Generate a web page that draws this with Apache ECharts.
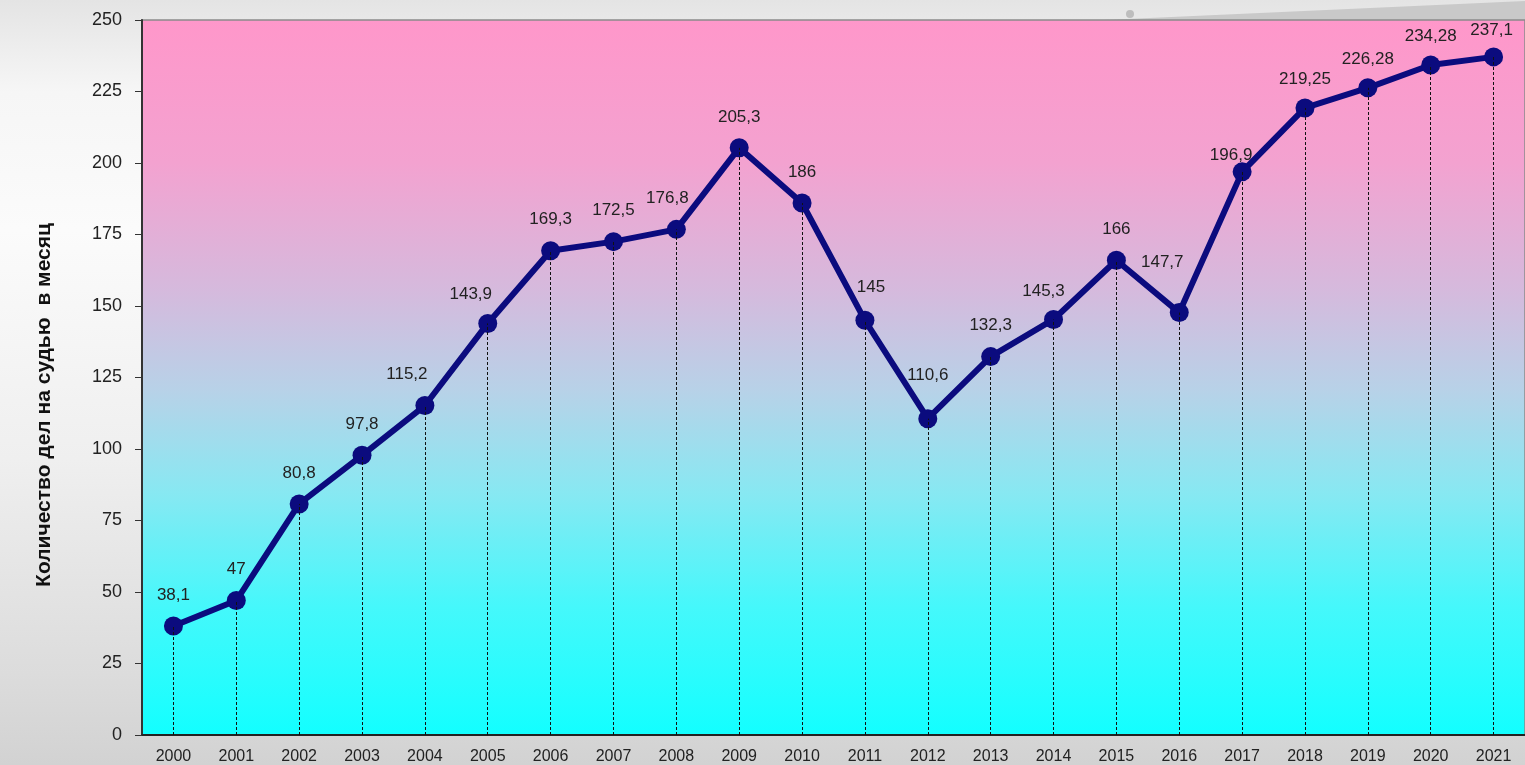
<!DOCTYPE html>
<html>
<head>
<meta charset="utf-8">
<script src="https://cdn.jsdelivr.net/npm/echarts@6/dist/echarts.min.js"></script>
<style>
  html, body { margin: 0; padding: 0; }
  body {
    width: 1525px;
    height: 765px;
    background: linear-gradient(180deg, #e4e4e4 0%, #f6f6f6 12%, #fbfbfb 30%, #efefef 60%, #dcdcdc 88%, #d2d2d2 100%);
  }
  #chart { width: 1525px; height: 765px; }
</style>
</head>
<body>
<div id="chart"></div>
<script>
// годы
const years = ['2000', '2001', '2002', '2003', '2004', '2005', '2006', '2007', '2008', '2009', '2010',
  '2011', '2012', '2013', '2014', '2015', '2016', '2017', '2018', '2019', '2020', '2021']
// дел на судью в месяц
const cases = [38.1, 47, 80.8, 97.8, 115.2, 143.9, 169.3, 172.5, 176.8, 205.3, 186,
  145, 110.6, 132.3, 145.3, 166, 147.7, 196.9, 219.25, 226.28, 234.28, 237.1]
const yTicks = [0, 25, 50, 75, 100, 125, 150, 175, 200, 225, 250]
const yTitle = 'Количество дел на судью  в месяц'

// сдвиг подписей [dx, dy] (чтобы не наезжали на линию)
const labelShift = {
  4: [-18, 0], 5: [-17, 2], 8: [-9, 0], 11: [6, -2], 12: [0, -12],
  14: [-10, 3], 16: [-17, -19], 17: [-11, 14], 18: [0, 2], 19: [0, 2], 20: [0, 2], 21: [-2, 4]
}

const chart = echarts.init(document.getElementById('chart'))

const dropLines = cases.map((v, i) => [{ coord: [i, 0] }, { coord: [i, v] }])
const font = 'Arial, "Liberation Sans", sans-serif'

const option = {
  animation: false,
  graphic: [
    {
      // серый клин сверху справа (оформление слайда)
      type: 'polygon',
      z: -1,
      shape: { points: [[1105, 20], [1525, 1], [1525, 20]] },
      style: { fill: '#c9c9c9' }
    },
    {
      type: 'circle',
      z: -1,
      shape: { cx: 1130, cy: 14, r: 4 },
      style: { fill: '#bdbdbd' }
    },
    {
      // подпись оси Y
      type: 'text',
      x: 44,
      y: 405,
      rotation: Math.PI / 2,
      style: {
        text: yTitle,
        fill: '#111',
        font: 'bold 21px ' + font,
        align: 'center',
        verticalAlign: 'middle'
      }
    }
  ],
  grid: {
    left: 142,
    right: -1,
    top: 20,
    bottom: 30,
    show: true,
    borderColor: '#8a8a8a',
    borderWidth: 1.5,
    backgroundColor: new echarts.graphic.LinearGradient(0, 0, 0, 1, [
      { offset: 0, color: '#ff97ca' },
      { offset: 0.2, color: '#f3a2d0' },
      { offset: 0.38, color: '#d5badd' },
      { offset: 0.52, color: '#b7d2e8' },
      { offset: 0.66, color: '#88e8f2' },
      { offset: 0.82, color: '#45f8fb' },
      { offset: 1, color: '#12ffff' }
    ])
  },
  xAxis: {
    type: 'category',
    data: years,
    boundaryGap: true,
    axisLine: { lineStyle: { color: '#222', width: 2 } },
    axisTick: { show: false },
    axisLabel: {
      color: '#222',
      fontSize: 16,
      fontFamily: font,
      margin: 14
    },
    splitLine: { show: false }
  },
  yAxis: {
    type: 'value',
    min: 0,
    max: 250,
    interval: 25,
    axisLine: { show: true, lineStyle: { color: '#333', width: 2 } },
    axisTick: { show: true, length: 7, lineStyle: { color: '#333' } },
    axisLabel: {
      color: '#222',
      fontSize: 18,
      margin: 20,
      fontFamily: font,
      formatter: v => (yTicks.includes(v) ? String(v) : '')
    },
    splitLine: { show: false }
  },
  series: [
    {
      // пунктирные линии от точки к оси
      type: 'line',
      data: [],
      z: 1,
      markLine: {
        silent: true,
        symbol: 'none',
        label: { show: false },
        lineStyle: { color: '#111', type: [3, 2], width: 1 },
        data: dropLines
      }
    },
    {
      type: 'line',
      data: cases.map((v, i) => {
        const s = labelShift[i]
        return s ? { value: v, label: { offset: s } } : v
      }),
      z: 3,
      symbol: 'circle',
      symbolSize: 19,
      lineStyle: { color: '#0b0b7e', width: 6 },
      itemStyle: { color: '#0b0b7e' },
      label: {
        show: true,
        position: 'top',
        distance: 13,
        color: '#222',
        fontSize: 17,
        fontFamily: font,
        formatter: p => String(p.value).replace('.', ',')
      }
    }
  ]
}

chart.setOption(option)
</script>
</body>
</html>
